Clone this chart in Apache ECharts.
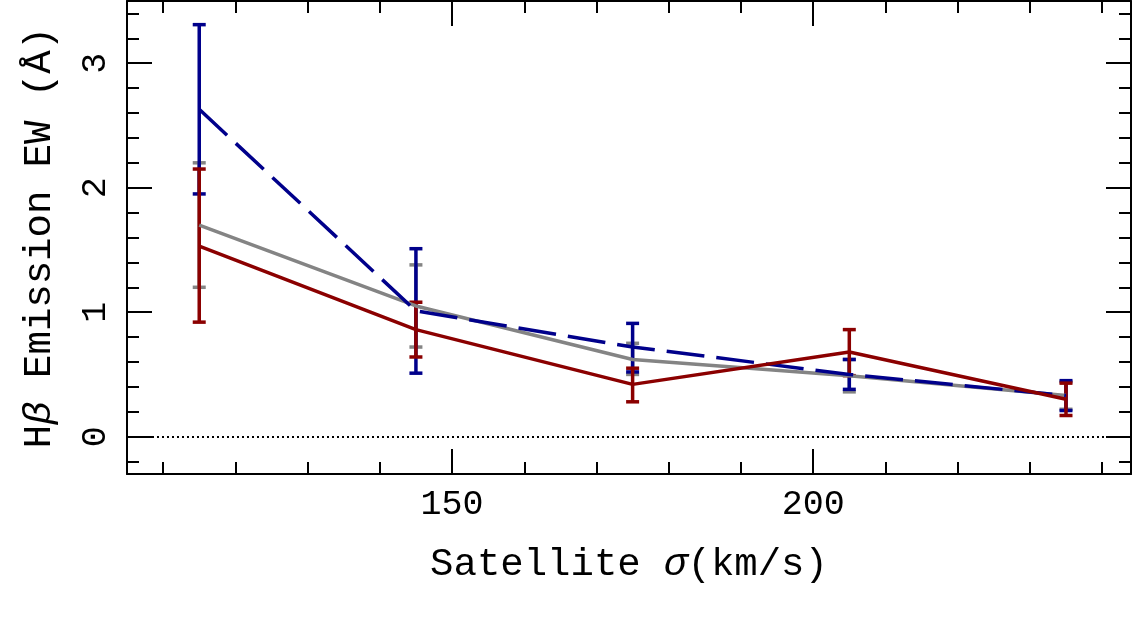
<!DOCTYPE html>
<html>
<head>
<meta charset="utf-8">
<script src="https://cdn.jsdelivr.net/npm/echarts@6/dist/echarts.min.js"></script>
<style>
  html, body { margin: 0; padding: 0; background: #fff; }
  #chart { width: 1134px; height: 623px; }
</style>
</head>
<body>
<div id="chart"></div>
<script>
// satellite velocity dispersion bins (km/s)
const sigma = [115, 145, 175, 205, 235];

// Hbeta emission EW, three samples
const grayEW = [1.70, 1.05, 0.62, 0.49, 0.33];
const grayLo = [1.20, 0.72, 0.50, 0.36, 0.22];
const grayHi = [2.20, 1.38, 0.75, 0.62, 0.44];

const blueEW = [2.63, 1.01, 0.72, 0.50, 0.33];
const blueLo = [1.95, 0.51, 0.52, 0.38, 0.21];
const blueHi = [3.31, 1.51, 0.91, 0.62, 0.45];

const redEW = [1.53, 0.86, 0.42, 0.68, 0.30];
const redLo = [0.92, 0.64, 0.28, 0.49, 0.17];
const redHi = [2.15, 1.08, 0.55, 0.86, 0.43];

// ticks
const xMajor = [150, 200];
const xMinor = [110, 120, 130, 140, 160, 170, 180, 190, 210, 220, 230, 240];
const yMajor = [0, 1, 2, 3];
const yMinor = [-0.2, 0.2, 0.4, 0.6, 0.8, 1.2, 1.4, 1.6, 1.8, 2.2, 2.4, 2.6, 2.8, 3.2, 3.4];

const GRAY = '#848484';
const BLUE = '#00008b';
const RED = '#8b0000';
const FONT = 'Liberation Mono';
const LW = 3.5;

const myChart = echarts.init(document.getElementById('chart'));

function errBars(lo, hi, color) {
  return {
    type: 'custom',
    data: sigma.map((s, i) => [s, lo[i], hi[i]]),
    renderItem: (params, api) => {
      const top = api.coord([api.value(0), api.value(2)]);
      const bot = api.coord([api.value(0), api.value(1)]);
      const w = 6.5;
      const style = { stroke: color, lineWidth: LW };
      return {
        type: 'group',
        children: [
          { type: 'line', shape: { x1: top[0], y1: top[1], x2: bot[0], y2: bot[1] }, style },
          { type: 'line', shape: { x1: top[0] - w, y1: top[1], x2: top[0] + w, y2: top[1] }, style },
          { type: 'line', shape: { x1: bot[0] - w, y1: bot[1], x2: bot[0] + w, y2: bot[1] }, style },
        ],
      };
    },
    silent: true,
    z: 3,
  };
}

function line(vals, color, dash) {
  return {
    type: 'line',
    data: sigma.map((s, i) => [s, vals[i]]),
    symbol: 'none',
    lineStyle: { color, width: LW, type: dash || 'solid' },
    silent: true,
    z: 3,
  };
}

const xBase = { type: 'value', min: 105, max: 244, splitLine: { show: false } };
const yBase = { type: 'value', min: -0.3, max: 3.5, splitLine: { show: false } };
const frame = { show: true, onZero: false, lineStyle: { color: '#000', width: 2 } };
const noLine = { show: false, onZero: false };
const tickStyle = { color: '#000', width: 2 };
const nameStyle = {
  fontFamily: FONT, fontSize: 39, color: '#000',
  rich: { i: { fontFamily: FONT, fontSize: 39, fontStyle: 'italic', color: '#000' } },
};

const option = {
  animation: false,
  grid: { left: 127, right: 3, top: 1, bottom: 149 },
  xAxis: [
    {
      ...xBase, position: 'bottom',
      axisLine: frame,
      axisTick: { show: true, inside: true, length: 25, customValues: xMajor, lineStyle: tickStyle },
      axisLabel: { show: true, customValues: xMajor, margin: 13, fontFamily: FONT, fontSize: 35, color: '#000' },
      name: 'Satellite {i|σ}(km/s)',
      nameLocation: 'middle',
      nameGap: 71,
      nameTextStyle: nameStyle,
    },
    {
      ...xBase, position: 'bottom',
      axisLine: noLine,
      axisTick: { show: true, inside: true, length: 12, customValues: xMinor, lineStyle: tickStyle },
      axisLabel: { show: false },
    },
    {
      ...xBase, position: 'top',
      axisLine: frame,
      axisTick: { show: true, inside: true, length: 25, customValues: xMajor, lineStyle: tickStyle },
      axisLabel: { show: false },
    },
    {
      ...xBase, position: 'top',
      axisLine: noLine,
      axisTick: { show: true, inside: true, length: 12, customValues: xMinor, lineStyle: tickStyle },
      axisLabel: { show: false },
    },
  ],
  yAxis: [
    {
      ...yBase, position: 'left',
      axisLine: frame,
      axisTick: { show: true, inside: true, length: 25, customValues: yMajor, lineStyle: tickStyle },
      axisLabel: { show: true, customValues: yMajor, rotate: 90, margin: 14, fontFamily: FONT, fontSize: 35, color: '#000' },
      name: 'H{i|β} Emission EW (Å)',
      nameLocation: 'middle',
      nameGap: 68,
      nameTextStyle: nameStyle,
    },
    {
      ...yBase, position: 'left',
      axisLine: noLine,
      axisTick: { show: true, inside: true, length: 12, customValues: yMinor, lineStyle: tickStyle },
      axisLabel: { show: false },
    },
    {
      ...yBase, position: 'right',
      axisLine: frame,
      axisTick: { show: true, inside: true, length: 25, customValues: yMajor, lineStyle: tickStyle },
      axisLabel: { show: false },
    },
    {
      ...yBase, position: 'right',
      axisLine: noLine,
      axisTick: { show: true, inside: true, length: 12, customValues: yMinor, lineStyle: tickStyle },
      axisLabel: { show: false },
    },
  ],
  series: [
    {
      ...line(grayEW, GRAY),
      markLine: {
        silent: true,
        symbol: ['none', 'none'],
        label: { show: false },
        lineStyle: { color: '#000', width: 2, type: [2, 3] },
        data: [{ yAxis: 0 }],
      },
    },
    errBars(grayLo, grayHi, GRAY),
    line(blueEW, BLUE, [38, 12]),
    errBars(blueLo, blueHi, BLUE),
    line(redEW, RED),
    errBars(redLo, redHi, RED),
  ],
};

myChart.setOption(option);
window.addEventListener('resize', () => myChart.resize());
</script>
</body>
</html>
